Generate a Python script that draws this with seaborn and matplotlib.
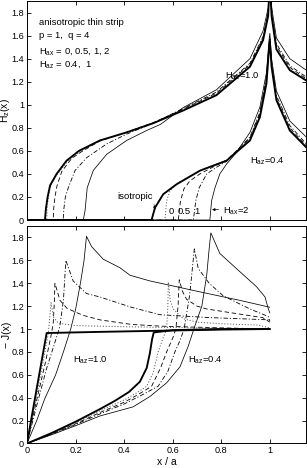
import matplotlib
matplotlib.use('Agg')
import matplotlib.pyplot as plt
import pandas as pd
import seaborn as sns

# ---------------- data ----------------
# TOP panel: H_z(x), H_az = 1.0
hz10_iso_x = [0, 0.074, 0.078, 0.085, 0.095, 0.122, 0.163, 0.214, 0.30, 0.41, 0.52, 0.643, 0.78, 0.918, 0.972, 0.993, 1.0, 1.007, 1.027, 1.082, 1.15]
hz10_iso_y = [0, 0, 0.10, 0.20, 0.30, 0.40, 0.515, 0.60, 0.69, 0.76, 0.84, 0.95, 1.083, 1.33, 1.56, 1.77, 2.1, 1.77, 1.48, 1.30, 1.21]
hz10_0_x = [0, 0.081, 0.083, 0.088, 0.097, 0.125, 0.168, 0.22, 0.30, 0.41, 0.52, 0.643, 0.78, 0.918, 0.972, 0.993, 1.0, 1.007, 1.027, 1.082, 1.15]
hz10_0_y = [0, 0, 0.10, 0.20, 0.30, 0.40, 0.51, 0.595, 0.69, 0.762, 0.842, 0.955, 1.09, 1.34, 1.57, 1.78, 2.1, 1.78, 1.49, 1.31, 1.215]
hz10_05_x = [0, 0.108, 0.110, 0.115, 0.124, 0.143, 0.184, 0.23, 0.30, 0.41, 0.52, 0.643, 0.78, 0.918, 0.972, 0.993, 1.0, 1.007, 1.027, 1.082, 1.15]
hz10_05_y = [0, 0, 0.10, 0.20, 0.30, 0.42, 0.535, 0.60, 0.685, 0.762, 0.845, 0.962, 1.10, 1.35, 1.58, 1.79, 2.1, 1.79, 1.51, 1.325, 1.225]
hz10_1_x = [0, 0.149, 0.152, 0.158, 0.170, 0.198, 0.245, 0.328, 0.41, 0.52, 0.643, 0.78, 0.918, 0.972, 0.993, 1.0, 1.007, 1.027, 1.082, 1.15]
hz10_1_y = [0, 0, 0.10, 0.20, 0.28, 0.43, 0.54, 0.66, 0.745, 0.84, 0.968, 1.11, 1.36, 1.59, 1.80, 2.1, 1.80, 1.53, 1.34, 1.24]
hz10_2_x = [0, 0.232, 0.239, 0.248, 0.273, 0.328, 0.41, 0.493, 0.55, 0.643, 0.78, 0.918, 0.972, 0.993, 1.0, 1.007, 1.027, 1.082, 1.15]
hz10_2_y = [0, 0, 0.08, 0.28, 0.43, 0.57, 0.69, 0.777, 0.83, 0.975, 1.13, 1.40, 1.64, 1.84, 2.1, 1.85, 1.58, 1.40, 1.30]

# TOP panel: H_z(x), H_az = 0.4
hz04_iso_x = [0, 0.513, 0.527, 0.561, 0.616, 0.712, 0.822, 0.918, 0.959, 0.986, 0.997, 1.0, 1.007, 1.027, 1.082, 1.15]
hz04_iso_y = [0, 0, 0.107, 0.224, 0.31, 0.428, 0.515, 0.69, 0.893, 1.185, 1.50, 1.55, 1.33, 1.04, 0.777, 0.63]
hz04_0_x = [0, 0.568, 0.575, 0.588, 0.616, 0.712, 0.822, 0.918, 0.959, 0.986, 0.997, 1.0, 1.007, 1.027, 1.082, 1.15]
hz04_0_y = [0, 0, 0.166, 0.25, 0.315, 0.43, 0.52, 0.70, 0.905, 1.20, 1.51, 1.56, 1.34, 1.05, 0.785, 0.635]
hz04_05_x = [0, 0.623, 0.632, 0.646, 0.671, 0.712, 0.78, 0.822, 0.918, 0.959, 0.986, 0.997, 1.0, 1.007, 1.027, 1.082, 1.15]
hz04_05_y = [0, 0, 0.166, 0.27, 0.34, 0.40, 0.475, 0.52, 0.71, 0.92, 1.22, 1.52, 1.57, 1.35, 1.06, 0.80, 0.645]
hz04_1_x = [0, 0.685, 0.695, 0.709, 0.74, 0.78, 0.822, 0.918, 0.959, 0.986, 0.997, 1.0, 1.007, 1.027, 1.082, 1.15]
hz04_1_y = [0, 0, 0.166, 0.28, 0.40, 0.457, 0.51, 0.72, 0.935, 1.24, 1.53, 1.58, 1.36, 1.08, 0.82, 0.66]
hz04_2_x = [0, 0.753, 0.76, 0.774, 0.794, 0.822, 0.86, 0.918, 0.959, 0.986, 0.997, 1.0, 1.007, 1.027, 1.082, 1.15]
hz04_2_y = [0, 0, 0.166, 0.28, 0.40, 0.486, 0.58, 0.76, 0.98, 1.28, 1.57, 1.62, 1.40, 1.12, 0.86, 0.72]

# BOTTOM panel: -J(x), H_az = 1.0
j10_iso_x = [0, 0.04, 0.081, 0.3, 0.55, 0.8, 1.0]
j10_iso_y = [0, 0.48, 0.965, 0.975, 0.985, 0.995, 1.0]
j10_0_x = [0, 0.04, 0.07, 0.088, 0.095, 0.099, 0.11, 0.13, 0.2, 0.4, 0.7, 1.0]
j10_0_y = [0, 0.42, 0.75, 0.97, 1.13, 1.23, 1.10, 1.05, 1.03, 1.02, 1.01, 1.0]
j10_05_x = [0, 0.04, 0.075, 0.098, 0.108, 0.113, 0.115, 0.136, 0.165, 0.23, 0.30, 0.43, 0.55, 0.8, 1.0]
j10_05_y = [0, 0.38, 0.70, 0.93, 1.05, 1.25, 1.40, 1.25, 1.18, 1.12, 1.08, 1.04, 1.025, 1.01, 1.0]
j10_1_x = [0, 0.04, 0.08, 0.11, 0.135, 0.15, 0.16, 0.19, 0.245, 0.30, 0.43, 0.547, 0.75, 1.0]
j10_1_y = [0, 0.33, 0.65, 0.85, 1.02, 1.25, 1.60, 1.42, 1.31, 1.28, 1.19, 1.125, 1.10, 1.08]
j10_2_x = [0, 0.04, 0.073, 0.118, 0.15, 0.18, 0.2, 0.22, 0.235, 0.245, 0.266, 0.314, 0.383, 0.424, 0.506, 0.55, 0.7, 0.877, 1.0]
j10_2_y = [0, 0.20, 0.39, 0.60, 0.80, 1.00, 1.17, 1.40, 1.60, 1.81, 1.72, 1.61, 1.535, 1.47, 1.42, 1.40, 1.33, 1.25, 1.19]

# BOTTOM panel: -J(x), H_az = 0.4
j04_iso_x = [0, 0.1, 0.2, 0.3, 0.36, 0.42, 0.465, 0.493, 0.506, 0.515, 0.522, 0.6, 0.8, 1.0]
j04_iso_y = [0, 0.09, 0.19, 0.30, 0.37, 0.45, 0.54, 0.66, 0.79, 0.91, 0.97, 0.99, 1.0, 1.0]
j04_0_x = [0, 0.1, 0.2, 0.3, 0.4, 0.45, 0.493, 0.52, 0.54, 0.56, 0.575, 0.58, 0.582, 0.59, 0.602, 0.643, 0.7, 0.808, 0.95, 1.0]
j04_0_y = [0, 0.085, 0.18, 0.285, 0.38, 0.44, 0.50, 0.62, 0.80, 0.92, 1.0, 1.2, 1.41, 1.25, 1.175, 1.09, 1.06, 1.045, 1.035, 1.01]
j04_05_x = [0, 0.1, 0.2, 0.3, 0.4, 0.46, 0.513, 0.55, 0.575, 0.60, 0.613, 0.622, 0.627, 0.64, 0.657, 0.70, 0.74, 0.877, 0.97, 1.0]
j04_05_y = [0, 0.082, 0.172, 0.27, 0.36, 0.43, 0.50, 0.66, 0.80, 0.92, 1.0, 1.2, 1.43, 1.33, 1.26, 1.20, 1.175, 1.13, 1.10, 1.06]
j04_1_x = [0, 0.1, 0.2, 0.3, 0.4, 0.47, 0.54, 0.58, 0.609, 0.63, 0.647, 0.67, 0.689, 0.705, 0.75, 0.808, 0.918, 0.97, 0.993, 1.0]
j04_1_y = [0, 0.08, 0.165, 0.258, 0.345, 0.42, 0.50, 0.63, 0.80, 0.90, 1.0, 1.3, 1.70, 1.53, 1.40, 1.29, 1.175, 1.13, 1.11, 1.07]
j04_2_x = [0, 0.1, 0.2, 0.3, 0.437, 0.506, 0.575, 0.63, 0.664, 0.691, 0.72, 0.74, 0.75, 0.757, 0.794, 0.877, 0.945, 0.98, 0.993, 1.0]
j04_2_y = [0, 0.075, 0.155, 0.24, 0.32, 0.41, 0.53, 0.67, 0.85, 1.025, 1.2, 1.47, 1.70, 1.84, 1.66, 1.50, 1.37, 1.28, 1.18, 1.14]

hax_levels = ['2', '1', '0.5', '0', 'iso']   # drawing order (thick isotropic last)
x_ticks = [0, 0.2, 0.4, 0.6, 0.8, 1.0]
y_ticks = [0, 0.2, 0.4, 0.6, 0.8, 1.0, 1.2, 1.4, 1.6, 1.8]

top_curves = {
    ('1.0', 'iso'): (hz10_iso_x, hz10_iso_y), ('1.0', '0'): (hz10_0_x, hz10_0_y),
    ('1.0', '0.5'): (hz10_05_x, hz10_05_y), ('1.0', '1'): (hz10_1_x, hz10_1_y),
    ('1.0', '2'): (hz10_2_x, hz10_2_y),
    ('0.4', 'iso'): (hz04_iso_x, hz04_iso_y), ('0.4', '0'): (hz04_0_x, hz04_0_y),
    ('0.4', '0.5'): (hz04_05_x, hz04_05_y), ('0.4', '1'): (hz04_1_x, hz04_1_y),
    ('0.4', '2'): (hz04_2_x, hz04_2_y),
}
bot_curves = {
    ('1.0', 'iso'): (j10_iso_x, j10_iso_y), ('1.0', '0'): (j10_0_x, j10_0_y),
    ('1.0', '0.5'): (j10_05_x, j10_05_y), ('1.0', '1'): (j10_1_x, j10_1_y),
    ('1.0', '2'): (j10_2_x, j10_2_y),
    ('0.4', 'iso'): (j04_iso_x, j04_iso_y), ('0.4', '0'): (j04_0_x, j04_0_y),
    ('0.4', '0.5'): (j04_05_x, j04_05_y), ('0.4', '1'): (j04_1_x, j04_1_y),
    ('0.4', '2'): (j04_2_x, j04_2_y),
}

styles = {
    'iso': dict(linestyle='-', lw=1.35, color='black'),
    '0': dict(linestyle=(0, (0.8, 1.3)), lw=0.7, color='0.35'),
    '0.5': dict(linestyle=(0, (3.2, 2.0)), lw=0.6, color='black'),
    '1': dict(linestyle=(0, (3.2, 1.4, 0.8, 1.4)), lw=0.6, color='black'),
    '2': dict(linestyle='-', lw=0.55, color='black'),
}

# ---------------- styling ----------------
sns.set_theme(style='ticks')
plt.rcParams['font.family'] = ['Liberation Sans', 'DejaVu Sans']
plt.rcParams['mathtext.default'] = 'regular'
plt.rcParams['lines.scale_dashes'] = False
plt.rcParams['axes.edgecolor'] = 'black'
plt.rcParams['text.color'] = 'black'
plt.rcParams['xtick.color'] = 'black'
plt.rcParams['ytick.color'] = 'black'
plt.rcParams['axes.labelcolor'] = 'black'

fig = plt.figure(figsize=(3.07, 4.68), dpi=100)
ax1 = fig.add_axes([0.0879, 0.5299, 0.9098, 0.4679])
ax2 = fig.add_axes([0.0879, 0.0524, 0.9098, 0.4647])


def draw(ax, curves):
    for haz in ['1.0', '0.4']:
        for hax in hax_levels:
            xs, ys = curves[(haz, hax)]
            df = pd.DataFrame({'x': xs, 'y': ys})
            sns.lineplot(data=df, x='x', y='y', ax=ax,
                         sort=False, estimator=None, **styles[hax])


draw(ax1, top_curves)
draw(ax2, bot_curves)

for ax in (ax1, ax2):
    ax.set_xlim(0, 1.15)
    ax.set_ylim(0, 1.9)
    ax.set_xticks(x_ticks)
    ax.set_yticks(y_ticks)
    ax.set_yticklabels([f'{v:g}' for v in y_ticks])
    ax.tick_params(direction='in', top=True, right=True, length=3, width=0.6,
                   labelsize=6.6, pad=2)
    for s in ax.spines.values():
        s.set_linewidth(0.7)
        s.set_color('black')
    ax.set_facecolor('white')

ax1.set_xticklabels([])
ax1.set_xlabel('')
ax2.set_xticklabels([f'{v:g}' for v in x_ticks])
ax1.set_ylabel('H$_z$(x)', fontsize=7.5)
ax2.set_ylabel('\u2212 J(x)', fontsize=7.5)
ax1.yaxis.set_label_coords(-0.052, 0.5)
ax2.yaxis.set_label_coords(-0.052, 0.5)
ax2.set_xlabel('x / a', fontsize=7.5, labelpad=1)

fs = 6.8
ax1.text(0.049, 1.69, 'anisotropic thin strip', fontsize=fs, va='baseline')
ax1.text(0.049, 1.583, 'p = 1,  q = 4', fontsize=fs, va='baseline')
ax1.text(0.049, 1.447, 'H$_{ax}$ = 0, 0.5, 1, 2', fontsize=fs, va='baseline')
ax1.text(0.049, 1.33, 'H$_{az}$ = 0.4,  1', fontsize=fs, va='baseline')

ax1.text(0.815, 1.25, 'H$_{az}$=1.0', fontsize=fs, va='center')
ax1.text(0.918, 0.507, 'H$_{az}$=0.4', fontsize=fs, va='center')
ax1.text(0.583, 0.075, '0', fontsize=fs, va='center')
ax1.text(0.620, 0.075, '0.5', fontsize=fs, va='center')
ax1.text(0.690, 0.075, '1', fontsize=fs, va='center')
ax1.annotate('isotropic', xy=(0.528, 0.09), xytext=(0.372, 0.2), fontsize=fs,
             va='center', ha='left',
             arrowprops=dict(arrowstyle='-|>', lw=0.5, color='black',
                             mutation_scale=4, shrinkA=0, shrinkB=0,
                             relpos=(1.0, 0.2)))
ax1.annotate('H$_{ax}$=2', xy=(0.762, 0.09), xytext=(0.808, 0.08), fontsize=fs,
             va='center', ha='left',
             arrowprops=dict(arrowstyle='-|>', lw=0.5, color='black',
                             mutation_scale=4, shrinkA=1, shrinkB=0,
                             relpos=(0.0, 0.6)))

ax2.text(0.19, 0.725, 'H$_{az}$=1.0', fontsize=fs, va='center')
ax2.text(0.664, 0.725, 'H$_{az}$=0.4', fontsize=fs, va='center')

fig.savefig('out.png', dpi=100, facecolor='white')
